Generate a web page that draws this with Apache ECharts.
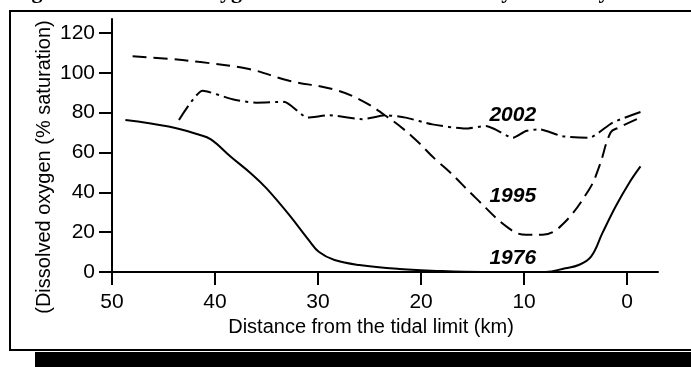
<!DOCTYPE html>
<html><head><meta charset="utf-8">
<script src="https://cdn.jsdelivr.net/npm/echarts@6/dist/echarts.min.js"></script>
<style>html,body{margin:0;padding:0;background:#fff}#c{width:691px;height:367px}</style>
</head><body><div id="c"></div>
<script>
const titleText = 'Figure 1: Dissolved oxygen saturation in the River Tyne estuary';
const xAxisName = 'Distance from the tidal limit (km)';
const yAxisName = '(Dissolved oxygen (% saturation)';
const xTicks = [50, 40, 30, 20, 10, 0];
const yTicks = [0, 20, 40, 60, 80, 100, 120];

const dist1976 = [48.7, 44.5, 41.6, 40.4, 38.5, 36.4, 35, 32.8, 30.9, 29.9, 28.4, 26, 22.1, 18.3, 14, 10, 7.9, 6, 4.7, 3.5, 2.4, 1.1, -0.2, -1.3];
const oxy1976  = [76.3, 73, 69, 66.6, 58, 49, 42, 28.7, 16, 10, 6, 3.5, 1.5, 0.5, 0, 0, 0, 1.9, 3.5, 7.7, 19.5, 33, 44.7, 53];

const dist1995 = [48, 44.5, 41.6, 36.7, 32.8, 28.6, 26, 23.4, 20.9, 18.6, 17.3, 14.7, 11.5, 9.8, 8.2, 6.3, 3.7, 2.7, 1.6, 0.8, -1.3];
const oxy1995  = [108.3, 107, 105.5, 101.9, 96, 91.8, 86.7, 78.3, 68.2, 56.5, 50.6, 37.2, 22, 18.7, 18.7, 23.7, 41.3, 53, 70, 72.5, 77.5];

const dist2002 = [43.5, 41.2, 38.3, 36, 33.3, 31, 28.9, 25.7, 23.4, 21.5, 18.9, 15.7, 13.7, 12.8, 11.1, 9.8, 8.5, 6.3, 3.7, 1.4, -1.3];
const oxy2002  = [76.3, 91, 86.7, 85, 85.4, 77.5, 78.7, 76.7, 78.7, 77.5, 74.1, 72, 73.3, 71.6, 67.4, 70.8, 71.6, 68.2, 67.4, 75, 80.3];

const yearNames = ['1976', '1995', '2002'];
const labelPos = [[11.1, 6.9], [11.1, 37.8], [11.1, 78.8]];

const pairs = (xs, ys) => xs.map((x, i) => [x, ys[i]]);
const FONT = '"Liberation Sans", Arial, sans-serif';

function yearLabel(i) {
  return {
    symbol: 'rect', symbolSize: 2, silent: true,
    itemStyle: { color: 'rgba(0,0,0,0)' },
    data: [{ coord: labelPos[i], value: yearNames[i] }],
    label: { show: true, position: 'inside', formatter: yearNames[i], color: '#000',
             fontFamily: FONT, fontSize: 21, fontWeight: 'bold', fontStyle: 'italic' }
  };
}

const chart = echarts.init(document.getElementById('c'), null, { renderer: 'canvas' });
chart.setOption({
  animation: false,
  backgroundColor: '#fff',
  grid: { left: 112, right: 33, top: 19, bottom: 95 },
  xAxis: {
    type: 'value', inverse: true, min: -3, max: 50,
    axisLine: { show: true, onZero: false, lineStyle: { color: '#000', width: 2 } },
    axisTick: { show: true, length: 13, lineStyle: { color: '#000', width: 2 }, customValues: xTicks },
    axisLabel: { color: '#000', fontFamily: FONT, fontSize: 21, margin: 20, customValues: xTicks },
    splitLine: { show: false }
  },
  yAxis: {
    type: 'value', min: 0, max: 127,
    axisLine: { show: true, onZero: false, lineStyle: { color: '#000', width: 2 } },
    axisTick: { show: true, length: 13, lineStyle: { color: '#000', width: 2 }, customValues: yTicks },
    axisLabel: { color: '#000', fontFamily: FONT, fontSize: 21, margin: 17, customValues: yTicks },
    splitLine: { show: false }
  },
  series: [
    { type: 'line', name: '1976', data: pairs(dist1976, oxy1976), smooth: 0.4, showSymbol: false,
      lineStyle: { color: '#000', width: 2, type: 'solid' }, markPoint: yearLabel(0), z: 3 },
    { type: 'line', name: '1995', data: pairs(dist1995, oxy1995), smooth: 0.4, showSymbol: false,
      lineStyle: { color: '#000', width: 2, type: [14, 7] }, markPoint: yearLabel(1), z: 3 },
    { type: 'line', name: '2002', data: pairs(dist2002, oxy2002), smooth: 0.2, showSymbol: false,
      lineStyle: { color: '#000', width: 2, type: [17, 5, 3, 5] }, markPoint: yearLabel(2), z: 3 }
  ],
  graphic: [
    { type: 'rect', shape: { x: 35, y: 352, width: 660, height: 20 }, style: { fill: '#000' }, z: 1 },
    { type: 'rect', shape: { x: 10, y: 11, width: 700, height: 339 }, style: { fill: 'none', stroke: '#000', lineWidth: 2 }, z: 2 },
    { type: 'text', x: 12, y: -19, style: { text: titleText, fill: '#000', verticalAlign: 'top',
      font: 'bold 22px "Liberation Serif", "Times New Roman", serif' }, z: 2 },
    { type: 'text', x: 371, y: 327, style: { text: xAxisName, fill: '#000', fontFamily: FONT, fontSize: 20, align: 'center', verticalAlign: 'middle' }, z: 2 },
    { type: 'text', x: 44, y: 167, rotation: Math.PI / 2,
      style: { text: yAxisName, fill: '#000', fontFamily: FONT, fontSize: 20, align: 'center', verticalAlign: 'middle' }, z: 2 }
  ]
});
</script></body></html>
